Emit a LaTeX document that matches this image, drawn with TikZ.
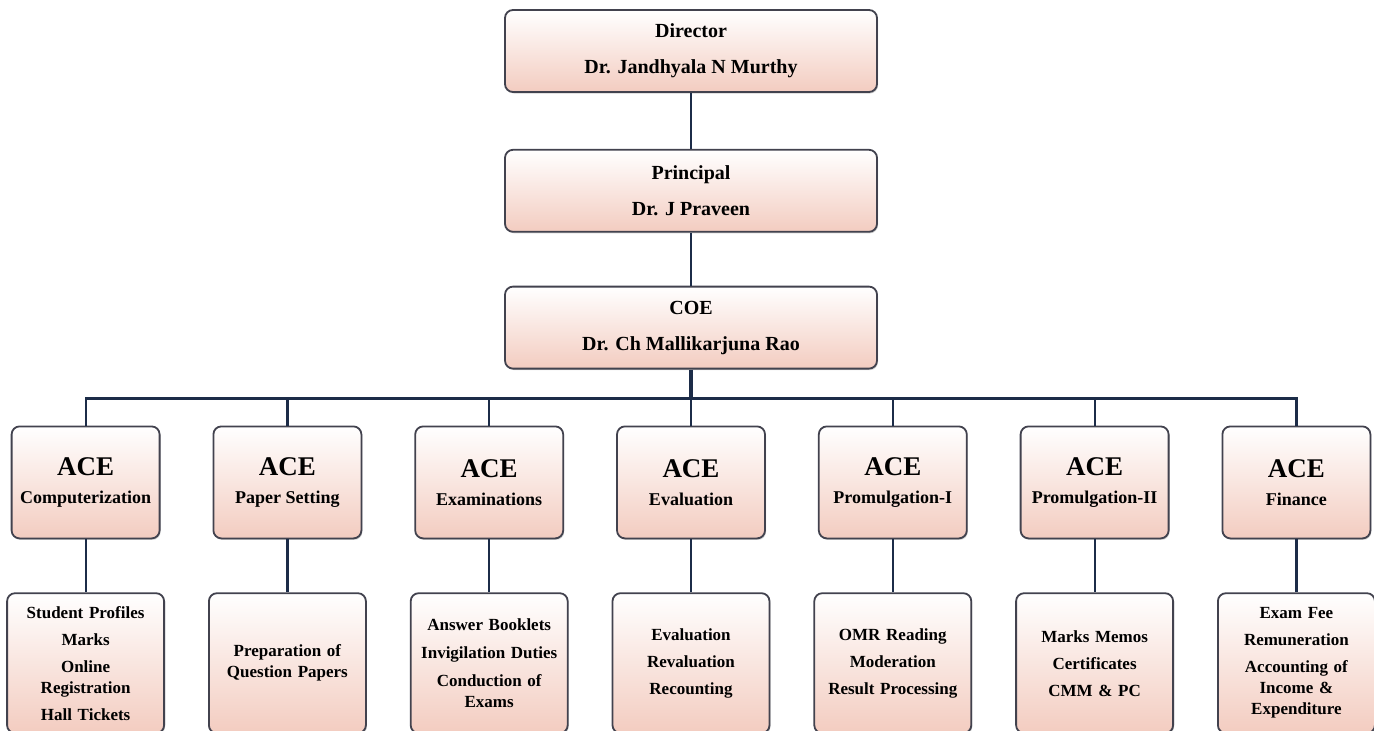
\documentclass[tikz,border=0pt]{standalone}
\usepackage{fontspec}
\setmainfont{Liberation Serif}
\usetikzlibrary{positioning, shadows}
\definecolor{boxpeach}{RGB}{243,204,192}
\definecolor{boxedge}{RGB}{66,66,78}
\definecolor{linkblue}{RGB}{28,44,72}
\newcommand{\acesize}{\fontsize{27}{30}\selectfont}
\tikzset{
    office/.style={
        rectangle,
        draw=boxedge,
        line width=1.8pt,
        rounded corners=8pt,
        top color=white,
        bottom color=boxpeach,
        align=center,
        inner sep=2pt,
        drop shadow={shadow xshift=1pt, shadow yshift=-1.5pt, opacity=0.35}
    },
    head/.style={
        office,
        minimum width=372pt,
        minimum height=82pt,
        font=\fontsize{20}{36}\selectfont\bfseries
    },
    unit/.style={
        office,
        minimum width=148pt,
        minimum height=112pt,
        font=\fontsize{18}{22}\selectfont\bfseries
    },
    duty/.style={
        office,
        minimum width=157pt,
        minimum height=140pt,
        text width=150pt,
        font=\fontsize{17}{21}\selectfont\bfseries
    },
    link/.style={
        draw=linkblue,
        line width=2.2pt
    }
}

\begin{document}
\begin{tikzpicture}[x=1pt, y=1pt]
    \useasboundingbox (0,0) rectangle (1374,-731);

    % top of the chart
    \node[head]                        (director)  at (691,-51) {Director\\Dr. Jandhyala N Murthy};
    \node[head, below=56pt of director]  (principal) {Principal\\Dr. J Praveen};
    \node[head, below=53pt of principal] (coe)       {COE\\Dr. Ch Mallikarjuna Rao};

    % ACE row
    \node[unit, below=56pt of coe]     (evaluation) {{\acesize ACE}\\[6pt]Evaluation};
    \node[unit, left=52pt of evaluation] (exams)    {{\acesize ACE}\\[6pt]Examinations};
    \node[unit, left=52pt of exams]    (paper)      {{\acesize ACE}\\[6pt]Paper Setting};
    \node[unit, left=52pt of paper]    (computer)   {{\acesize ACE}\\[6pt]Computerization};
    \node[unit, right=52pt of evaluation] (promone) {{\acesize ACE}\\[6pt]Promulgation-I};
    \node[unit, right=52pt of promone] (promtwo)    {{\acesize ACE}\\[6pt]Promulgation-II};
    \node[unit, right=52pt of promtwo] (finance)    {{\acesize ACE}\\[6pt]Finance};

    % duties
    \node[duty, below=53pt of computer]   (computerduty) {Student Profiles\\[6pt]Marks\\[6pt]Online\\Registration\\[6pt]Hall Tickets};
    \node[duty, below=53pt of paper]      (paperduty)    {Preparation of\\Question Papers};
    \node[duty, below=53pt of exams]      (examsduty)    {Answer Booklets\\[7pt]Invigilation Duties\\[7pt]Conduction of\\Exams};
    \node[duty, below=53pt of evaluation] (evalduty)     {Evaluation\\[6pt]Revaluation\\[6pt]Recounting};
    \node[duty, below=53pt of promone]    (promoneduty)  {OMR Reading\\[6pt]Moderation\\[6pt]Result Processing};
    \node[duty, below=53pt of promtwo]    (promtwoduty)  {Marks Memos\\[6pt]Certificates\\[6pt]CMM \& PC};
    \node[duty, below=53pt of finance]    (financeduty)  {Exam Fee\\[6pt]Remuneration\\[6pt]Accounting of\\Income \&\\Expenditure};

    \path (coe.south) ++(0,-29) coordinate (bus);

    \draw[link] (director)  -- (principal);
    \draw[link] (principal) -- (coe);
    \draw[link, line width=3.5pt] (coe.south) -- (bus);
    \draw[link] (computer.north) |- (bus) -| (finance.north);
    \draw[link] (paper.north)      -- (paper.north |- bus);
    \draw[link] (exams.north)      -- (exams.north |- bus);
    \draw[link] (evaluation.north) -- (evaluation.north |- bus);
    \draw[link] (promone.north)    -- (promone.north |- bus);
    \draw[link] (promtwo.north)    -- (promtwo.north |- bus);

    \draw[link] (computer)   -- (computerduty);
    \draw[link] (paper)      -- (paperduty);
    \draw[link] (exams)      -- (examsduty);
    \draw[link] (evaluation) -- (evalduty);
    \draw[link] (promone)    -- (promoneduty);
    \draw[link] (promtwo)    -- (promtwoduty);
    \draw[link] (finance)    -- (financeduty);
\end{tikzpicture}
\end{document}
